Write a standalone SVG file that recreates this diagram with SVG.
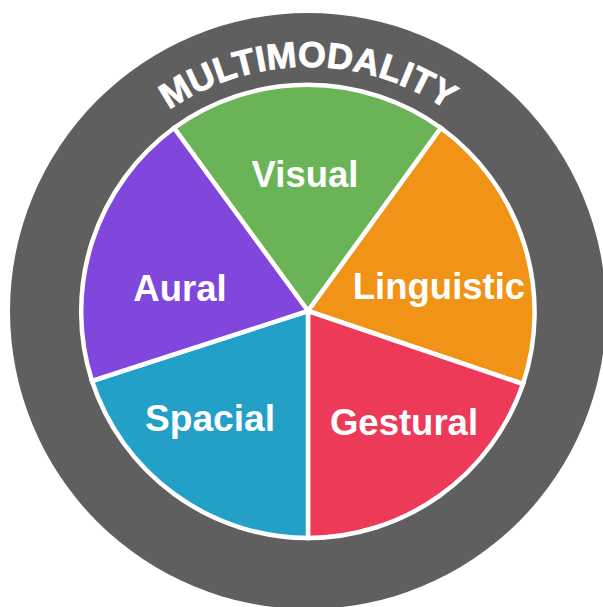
<svg xmlns="http://www.w3.org/2000/svg" width="603" height="607" viewBox="0 0 603 607">
<style>
.s{stroke:#fff;stroke-width:4.5;stroke-linejoin:miter}
.l{font-family:"Liberation Sans",Arial,sans-serif;font-weight:700;font-size:36.5px;fill:#fff;text-anchor:middle}
.t{font-family:"Liberation Sans",Arial,sans-serif;font-weight:700;font-size:36px;fill:#fff;stroke:#fff;stroke-width:.8}
</style>
<defs><path id="arc" d="M100 182.500 A245 245 0 0 1 516 182.500"/></defs>
<rect width="603" height="607" fill="#fff"/>
<g id="ring"><circle cx="308" cy="311" r="298" fill="#5f5f5f"/>
<text class="t" text-anchor="middle"><textPath href="#arc" startOffset="50%">MULTIMODALITY</textPath></text></g>
<g id="visual"><path class="s" d="M308 311 L174 128 A228 228 0 0 1 441 128 Z" fill="#6ab457"/><text class="l" x="305" y="187">Visual</text></g>
<g id="linguistic"><path class="s" d="M308 311 L441 128 A228 228 0 0 1 523 384 Z" fill="#f09316"/><text class="l" x="439" y="299">Linguistic</text></g>
<g id="gestural"><path class="s" d="M308 311 L523 384 A228 228 0 0 1 308 538 Z" fill="#ee3a59"/><text class="l" x="404" y="435">Gestural</text></g>
<g id="spacial"><path class="s" d="M308 311 L308 538 A228 228 0 0 1 92 381 Z" fill="#22a0c7"/><text class="l" x="210" y="431" textLength="130" lengthAdjust="spacingAndGlyphs">Spacial</text></g>
<g id="aural"><path class="s" d="M308 311 L92 381 A228 228 0 0 1 174 128 Z" fill="#8146dc"/><text class="l" x="180" y="301">Aural</text></g>
<g id="connectors"/>
</svg>
